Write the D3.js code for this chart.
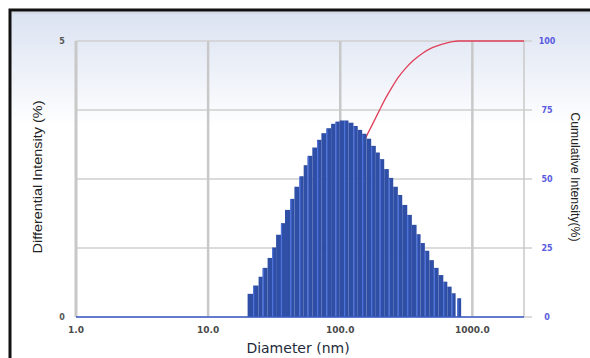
<!DOCTYPE html>
<html>
<head>
<meta charset="utf-8">
<script src="https://cdn.jsdelivr.net/npm/d3@7"></script>
<style>
  html, body { margin: 0; padding: 0; background: #fff; }
  svg { display: block; }
</style>
</head>
<body>
<div id="chart"></div>
<script>
// bin lower edges (nm), last value is the upper edge of the last bin
const binEdges = [19.9, 21.9, 24.1, 25.9, 28.2, 30.5, 32.7, 35.6, 38.2, 41.9,
  45.0, 49.1, 52.9, 56.7, 61.5, 66.8, 72.0, 78.6, 85.3, 92.0,
  99.1, 107.1, 115.4, 125.9, 135.7, 146.6, 158.0, 171.5, 185.9, 199.3,
  215.2, 233.2, 251.8, 272.9, 294.6, 321.6, 348.4, 378.2, 405.5, 437.0,
  472.1, 511.6, 555.3, 602.8, 646.4, 696.7, 747.0, 769.6, 822.6];
// differential intensity (%) per bin
const intensity = [0.42, 0.57, 0.73, 0.89, 1.07, 1.26, 1.49, 1.70, 1.94, 2.14,
  2.36, 2.55, 2.75, 2.92, 3.07, 3.21, 3.33, 3.42, 3.50, 3.54,
  3.56, 3.56, 3.52, 3.46, 3.39, 3.32, 3.23, 3.10, 2.98, 2.86,
  2.68, 2.52, 2.36, 2.21, 2.03, 1.85, 1.67, 1.50, 1.34, 1.20,
  1.03, 0.89, 0.76, 0.64, 0.55, 0.43, 0, 0.34];
// cumulative curve
const cumSize = [140, 155.3, 174.5, 195.8, 220.1, 247.5, 277.6, 312.1, 360.7, 417.7, 497.4, 592.4, 705.3, 791.4, 2460];
const cumValue = [59, 64.7, 69.6, 74.4, 79.2, 83.4, 87.1, 90.1, 93.1, 95.5, 97.6, 98.9, 99.8, 100, 100];

const xTicks = [1, 10, 100, 1000];
const leftTicks = [0, 5];
const rightTicks = [0, 25, 50, 75, 100];

const width = 590, height = 358;
const margin = { top: 41, right: 66, bottom: 41, left: 76 };

const svg = d3.select("#chart").append("svg")
  .attr("width", width)
  .attr("height", height);

const defs = svg.append("defs");
const grad = defs.append("linearGradient")
  .attr("id", "bg").attr("x1", 0).attr("y1", 0).attr("x2", 0).attr("y2", 1);
grad.append("stop").attr("offset", "0%").attr("stop-color", "#dae2f1");
grad.append("stop").attr("offset", "25%").attr("stop-color", "#f6f8fc");
grad.append("stop").attr("offset", "32%").attr("stop-color", "#ffffff");
grad.append("stop").attr("offset", "100%").attr("stop-color", "#ffffff");

// frame
svg.append("rect")
  .attr("x", 10).attr("y", 10).attr("width", 600).attr("height", 360)
  .attr("fill", "url(#bg)")
  .attr("stroke", "#111").attr("stroke-width", 3);
svg.append("line")
  .attr("x1", 12).attr("x2", width).attr("y1", 13).attr("y2", 13)
  .attr("stroke", "#d0d4da").attr("stroke-width", 1);

const x = d3.scaleLog([1, 2460], [margin.left, width - margin.right]);
const yL = d3.scaleLinear([0, 5], [height - margin.bottom, margin.top]);
const yR = d3.scaleLinear([0, 100], [height - margin.bottom, margin.top]);

// grid
const grid = svg.append("g").attr("class", "grid");
grid.selectAll("line.h")
  .data([0, 1.25, 2.5, 3.75, 5])
  .join("line")
    .attr("class", "h")
    .attr("x1", margin.left).attr("x2", width - margin.right + 8)
    .attr("y1", d => yL(d)).attr("y2", d => yL(d))
    .attr("stroke", "#cfcfcf").attr("stroke-width", 1.5);
grid.selectAll("line.v")
  .data(xTicks)
  .join("line")
    .attr("class", "v")
    .attr("x1", d => x(d)).attr("x2", d => x(d))
    .attr("y1", margin.top).attr("y2", height - margin.bottom)
    .attr("stroke", "#c8c8c8").attr("stroke-width", d => d === 1 ? 3 : 2.5);
grid.append("line")
  .attr("x1", x.range()[1]).attr("x2", x.range()[1])
  .attr("y1", margin.top).attr("y2", height - margin.bottom)
  .attr("stroke", "#c8c8c8").attr("stroke-width", 1.5);

// cumulative line (behind the bars)
const line = d3.line()
  .x((d, i) => x(cumSize[i]))
  .y(d => yR(d))
  .curve(d3.curveMonotoneX);
svg.append("path")
  .datum(cumValue)
  .attr("d", line)
  .attr("fill", "none")
  .attr("stroke", "#e0405a")
  .attr("stroke-width", 1.3);

// bars
const bars = svg.append("g").attr("class", "bars");
const binData = intensity.map((v, i) => ({ lo: binEdges[i], hi: binEdges[i + 1], v }));
bars.selectAll("rect")
  .data(binData)
  .join("rect")
    .attr("x", d => x(d.lo))
    .attr("width", d => x(d.hi) - x(d.lo))
    .attr("y", d => yL(d.v))
    .attr("height", d => yL(0) - yL(d.v))
    .attr("fill", "#2f4ea6");
bars.selectAll("line")
  .data(binData.filter((d, i) => i % 2 === 1 && d.v > 0))
  .join("line")
    .attr("x1", d => x(d.lo) + 0.5).attr("x2", d => x(d.lo) + 0.5)
    .attr("y1", d => yL(d.v) + 1).attr("y2", yL(0))
    .attr("stroke", "#4f74dc").attr("stroke-width", 1.2);

// baseline
svg.append("line")
  .attr("x1", margin.left).attr("x2", x.range()[1])
  .attr("y1", yL(0)).attr("y2", yL(0))
  .attr("stroke", "#3a5bc4").attr("stroke-width", 1.5);

// x tick labels
svg.append("g")
  .selectAll("text")
  .data(xTicks)
  .join("text")
    .attr("x", d => x(d))
    .attr("y", height - margin.bottom + 16)
    .attr("text-anchor", "middle")
    .attr("font-family", "DejaVu Sans")
    .attr("font-size", 9)
    .attr("font-weight", "bold")
    .attr("fill", "#4a4a4a")
    .text(d => d3.format(".1f")(d));

svg.append("text")
  .attr("x", 298).attr("y", 353)
  .attr("text-anchor", "middle")
  .attr("font-family", "DejaVu Sans")
  .attr("font-size", 14)
  .attr("fill", "#1e2a3a")
  .text("Diameter (nm)");

// left ticks
svg.append("g")
  .selectAll("text")
  .data(leftTicks)
  .join("text")
    .attr("x", 62)
    .attr("y", d => yL(d) + 3)
    .attr("text-anchor", "middle")
    .attr("font-family", "DejaVu Sans")
    .attr("font-size", 8)
    .attr("font-weight", "bold")
    .attr("fill", "#555")
    .text(d => d);

svg.append("text")
  .attr("transform", `translate(42, 177) rotate(-90)`)
  .attr("text-anchor", "middle")
  .attr("font-family", "Liberation Sans Narrow, Liberation Sans, Arial")
  .attr("font-size", 12)
  .attr("textLength", 153)
  .attr("lengthAdjust", "spacingAndGlyphs")
  .attr("fill", "#222")
  .text("Differential Intensity (%)");

// right ticks
const rAxis = svg.append("g");
rAxis.selectAll("text")
  .data(rightTicks)
  .join("text")
    .attr("x", 547)
    .attr("y", d => yR(d) + 3)
    .attr("text-anchor", "middle")
    .attr("font-family", "DejaVu Sans")
    .attr("font-size", 8)
    .attr("font-weight", "bold")
    .attr("fill", "#5a5ae0")
    .text(d => d);

svg.append("text")
  .attr("transform", `translate(571, 177) rotate(90)`)
  .attr("text-anchor", "middle")
  .attr("font-family", "Liberation Sans Narrow, Liberation Sans, Arial")
  .attr("font-size", 12)
  .attr("textLength", 129)
  .attr("lengthAdjust", "spacingAndGlyphs")
  .attr("fill", "#222")
  .text("Cumulative Intensity(%)");
</script>
</body>
</html>
